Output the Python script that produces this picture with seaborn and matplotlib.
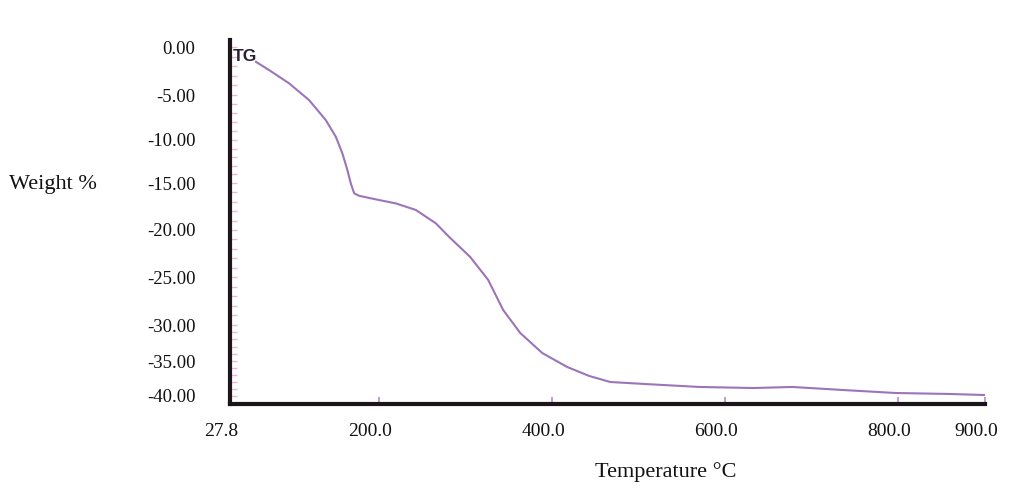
import numpy as np
import matplotlib
matplotlib.use("Agg")
import matplotlib.pyplot as plt
from matplotlib.scale import FuncScale
from matplotlib.ticker import FixedLocator, MultipleLocator
from matplotlib.transforms import ScaledTranslation
import seaborn as sns

# Thermogravimetric trace: temperature (°C) vs. weight change (%)
temperature = [57.5, 72.9, 96.0, 119.1, 138.4, 150.0, 157.6, 163.4, 167.3, 171.2,
               176.9, 196.2, 219.4, 242.5, 265.6, 281.0, 305.3, 326.1, 343.4, 363.1,
               388.5, 417.4, 442.8, 467.1, 507.6, 570.0, 632.4, 677.5, 735.3, 796.6,
               859.0, 899.5]
weight = [-1.53, -2.40, -3.78, -5.56, -7.78, -9.63, -11.55, -13.49, -15.03, -16.10,
          -16.36, -16.74, -17.17, -17.87, -19.29, -20.74, -22.87, -25.31, -28.44, -31.11,
          -33.89, -35.86, -37.14, -38.00, -38.29, -38.71, -38.86, -38.71, -39.14, -39.57,
          -39.71, -39.86]

x_ticks = [27.8, 200.0, 400.0, 600.0, 800.0, 900.0]
x_tick_labels = ["27.8", "200.0", "400.0", "600.0", "800.0", "900.0"]
y_ticks = [0, -5, -10, -15, -20, -25, -30, -35, -40]
y_tick_labels = ["0.00", "-5.00", "-10.00", "-15.00", "-20.00", "-25.00",
                 "-30.00", "-35.00", "-40.00"]

# Layout: the printed weight scale is hand-spaced; depth (px below the
# top of the axes) of each labelled weight row.
ROW_DEPTH = [7, 55, 100, 143, 190, 237, 285, 321, 356]
AX_HEIGHT_PX = 364

knot_v = np.array([5.0] + y_ticks + [-50.0])
knot_d = np.array([ROW_DEPTH[0] - 48.0] + ROW_DEPTH + [ROW_DEPTH[-1] + 70.0])
asc_v = knot_v[::-1]
asc_p = -knot_d[::-1]


def fwd(v):
    return np.interp(v, asc_v, asc_p)


def inv(p):
    return np.interp(p, asc_p, asc_v)


sns.set_theme(style="white")
plt.rcParams["font.family"] = ["Liberation Serif", "DejaVu Serif"]

fig = plt.figure(figsize=(10.2, 5.04), dpi=100)
ax = fig.add_axes([230 / 1020, 100 / 504, 755 / 1020, AX_HEIGHT_PX / 504])

sns.lineplot(x=temperature, y=weight, ax=ax, color="#9c74b8", linewidth=1.5)

ax.set_yscale(FuncScale(ax.yaxis, (fwd, inv)))
ax.set_xlim(27.8, 900.0)
ax.set_ylim(inv(-AX_HEIGHT_PX), inv(0))

ax.xaxis.set_major_locator(FixedLocator(x_ticks))
ax.set_xticklabels(x_tick_labels)
ax.yaxis.set_major_locator(FixedLocator(y_ticks))
ax.set_yticklabels(y_tick_labels)
ax.yaxis.set_minor_locator(MultipleLocator(1))

ax.tick_params(axis="x", which="major", direction="in", length=5, width=1.2,
               color="#b88ccc", labelsize=14, pad=14, labelcolor="#111111",
               bottom=True)
ax.tick_params(axis="y", which="both", direction="in", length=5, width=1.0,
               color="#ecb4dc", left=True)
ax.tick_params(axis="y", which="major", labelsize=13.5, pad=25,
               labelcolor="#111111")

for lab in ax.get_xticklabels():
    lab.set_transform(lab.get_transform()
                      + ScaledTranslation(-0.09, 0, fig.dpi_scale_trans))

for side in ("top", "right"):
    ax.spines[side].set_visible(False)
for side in ("left", "bottom"):
    ax.spines[side].set_color("#1b1517")
    ax.spines[side].set_linewidth(3.0)
    ax.spines[side].set_capstyle("projecting")
    ax.spines[side].set_zorder(3)

ax.set_xlabel("Temperature °C", fontsize=16, color="#111111", va="center")
ax.xaxis.set_label_coords((666 - 230) / 755, -(472 - 404) / AX_HEIGHT_PX)
ax.set_ylabel("Weight %", fontsize=16, rotation=0, color="#111111",
              va="center", ha="center")
ax.yaxis.set_label_coords((53 - 230) / 755, (404 - 185) / AX_HEIGHT_PX)

ax.text(0.004, 0.975, "TG", transform=ax.transAxes, ha="left", va="top",
        fontsize=12.5, fontweight="heavy", color="#2b2130",
        family=["Liberation Sans", "DejaVu Sans"])

ax.grid(False)
fig.savefig("out.png", dpi=100, facecolor="white")
